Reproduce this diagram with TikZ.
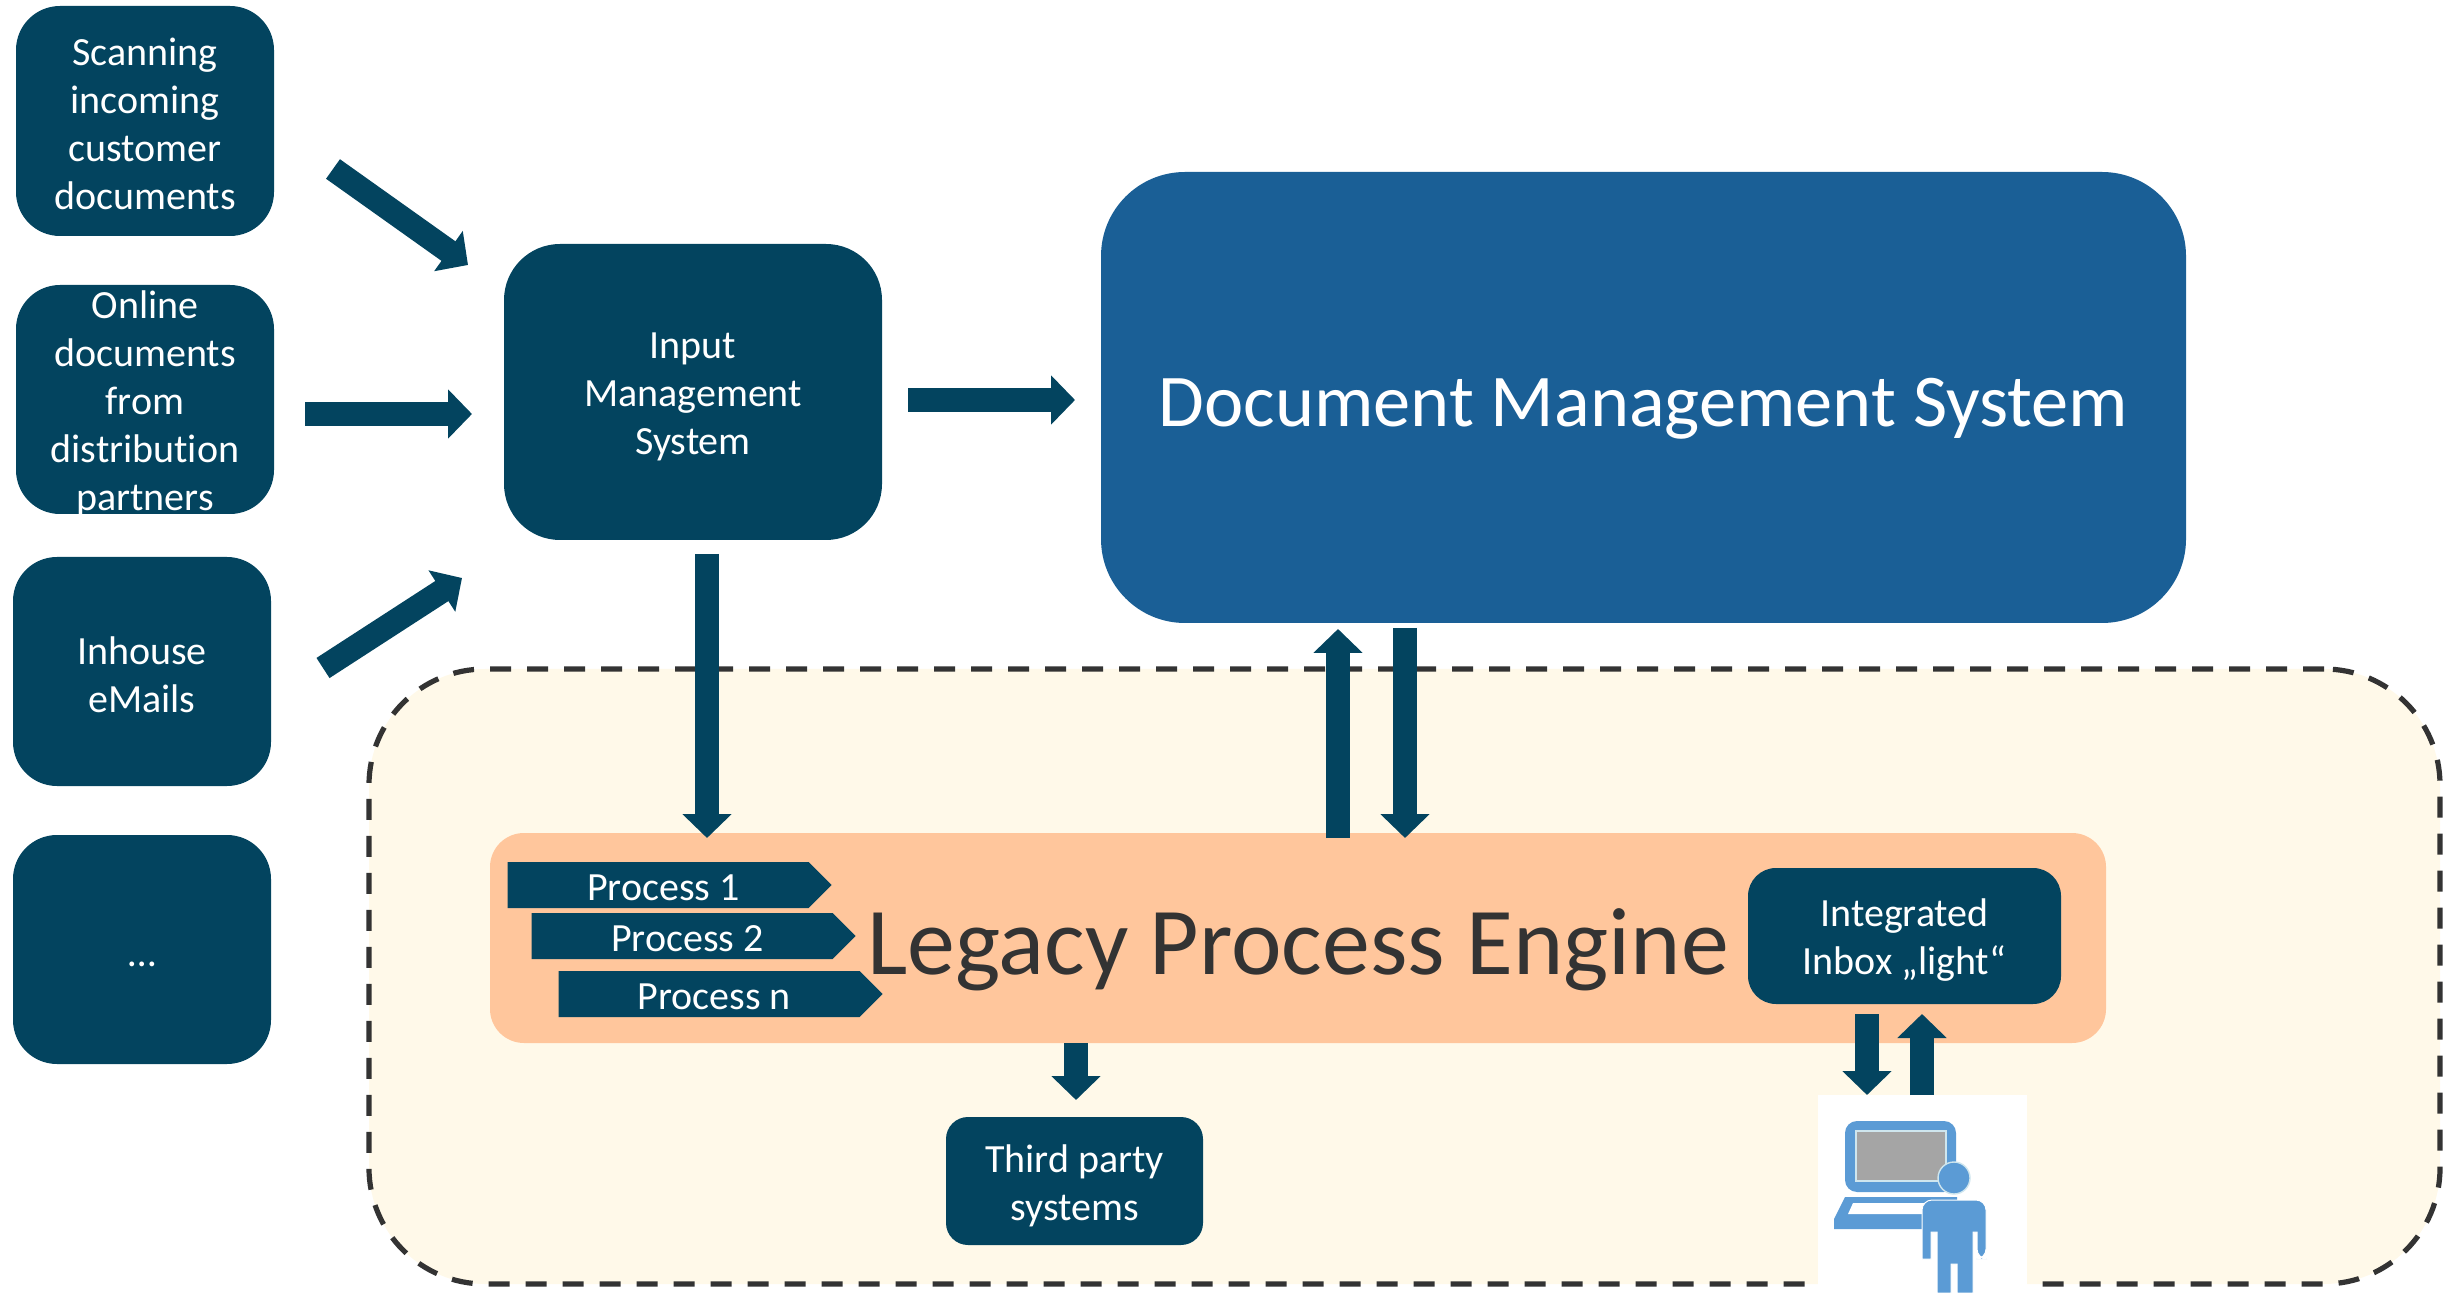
\documentclass[tikz,border=0pt]{standalone}
\usepackage{fontspec}
\setmainfont[Ligatures=NoCommon]{Carlito}
\usetikzlibrary{arrows.meta,shapes.symbols}
\definecolor{teal}{HTML}{03445F}
\definecolor{dmsblue}{HTML}{1A5F96}
\definecolor{engine}{HTML}{FFC69C}
\definecolor{cream}{HTML}{FFF9E9}
\definecolor{ink}{HTML}{333333}
\definecolor{figblue}{HTML}{5B9BD5}
\definecolor{figgray}{HTML}{A5A5A5}
\definecolor{figedge}{HTML}{CFE6EE}
\tikzset{
  x=0.5pt,y=-0.5pt,
  base/.style={inner sep=0pt,outer sep=0pt,align=center,rounded corners=#1},
  dark/.style={base=#1,fill=teal},
  lbl/.style={inner sep=0pt,outer sep=0pt,align=center,text=white,yshift=-2.2pt,font=\fontsize{20pt}{24pt}\selectfont},
  flow/.style={draw=teal,line width=12pt,-{Triangle[length=12pt,width=24pt]}},
  procshape/.style={shape=signal,signal to=east,signal from=nowhere,signal pointer angle=90,
    fill=teal,text=white,inner sep=0pt,outer sep=0pt,font=\fontsize{20pt}{24pt}\selectfont,
    minimum width=162pt,minimum height=23pt,execute at begin node={\hspace{5.4pt}\rule{0pt}{16pt}}},
}
\newcommand\bx[7]{\node[#6,minimum width={(#4-#2)*0.5pt},minimum height={(#5-#3)*0.5pt}] (#1) at ({(#2+#4)/2},{(#3+#5)/2}) {#7};}
\begin{document}
\begin{tikzpicture}
\useasboundingbox (0,0) rectangle (2456,1293);
\bx{zone}{369}{669}{2440}{1284}{base=58pt,fill=cream,draw=ink,line width=2.6pt,dash pattern=on 10.5pt off 8pt}{}
\bx{scan}{16}{6}{274}{236}{dark=22pt}{}
\node[lbl,yshift=0.8pt] (scant) at (scan) {Scanning\\incoming\\customer\\documents};
\bx{online}{16}{285}{274}{514}{dark=22pt}{}
\node[lbl] (onlinet) at (online) {Online\\documents\\from\\distribution\\partners};
\bx{mail}{13}{557}{271}{786}{dark=22pt}{}
\node[lbl,yshift=0.8pt] (mailt) at (mail) {Inhouse\\eMails};
\bx{more}{13}{835}{271}{1064}{dark=22pt}{}
\node[lbl,yshift=2.2pt] (moret) at (more) {\rule{0pt}{17pt}…};
\bx{ims}{504}{244}{882}{540}{dark=28pt}{}
\node[lbl,yshift=-0.4pt] (imst) at (ims) {Input\\Management\\System};
\bx{dms}{1101}{172}{2186}{623}{base=42pt,fill=dmsblue}{}
\node[lbl,yshift=-3.3pt,font=\fontsize{37.2pt}{44pt}\selectfont] (dmst) at (dms) {Document Management System};
\bx{eng}{490}{833}{2106}{1043}{base=17pt,fill=engine}{}
\node[text=ink,inner sep=0pt,font=\fontsize{47.9pt}{56pt}\selectfont] (engt) at (1298,949.5) {Legacy Process Engine};
\node[procshape] (p1) at (658,885) {Process 1};
\node[procshape] (p2) at (682,936) {Process 2};
\node[procshape] (pn) at (709,994) {Process n};
\bx{inbox}{1748}{868}{2061}{1004}{dark=14pt}{}
\node[lbl] (inboxt) at (inbox) {Integrated\\Inbox „light“};
\bx{third}{946}{1117}{1203}{1245}{dark=11pt}{}
\node[lbl] (thirdt) at (third) {Third party\\systems};
% user figure
\bx{user}{1818}{1095}{2027}{1293}{base=0pt,fill=white}{}
\fill[figblue,rounded corners=6pt] (1845,1192) -- (1845,1121) -- (1956,1121) -- (1956,1192) -- cycle;
\fill[figgray,draw=figedge,line width=0.7pt] (1856,1131) rectangle (1946,1181);
\fill[figblue] (1845,1197) -- (1957,1197) -- (1957,1229) -- (1834,1229) -- (1834,1219) -- cycle;
\fill[white] (1853,1203) -- (1930,1203) -- (1930,1214) -- (1848,1214) -- cycle;
\fill[figblue,draw=figedge,line width=0.7pt] (1954,1178) circle (16);
\fill[figblue,draw=white,line width=0.5pt,rounded corners=5pt] (1922,1259) -- (1922,1200) -- (1986,1200) -- (1986,1259) -- (1977,1259) [sharp corners] -- (1977,1232) -- (1973,1232) -- (1973,1293) -- (1957,1293) -- (1957,1264) -- (1951,1264) -- (1951,1293) -- (1937,1293) -- (1937,1232) -- (1931,1232) -- (1931,1259) -- cycle;
% free ends
\coordinate (a1s) at (333,169); \coordinate (a1e) at (468,265);
\coordinate (a2s) at (305,414); \coordinate (a2e) at (472,414);
\coordinate (a3s) at (323,668); \coordinate (a3e) at (462,578);
\coordinate (a4s) at (908,400); \coordinate (a4e) at (1075,400);
\coordinate (a5s) at (707,554); \coordinate (a5e) at (707,838);
\coordinate (a6s) at (1338,838); \coordinate (a6e) at (1338,629);
\coordinate (a7s) at (1405,628); \coordinate (a7e) at (1405,838);
\coordinate (a8s) at (1076,1043); \coordinate (a8e) at (1076,1100);
\coordinate (a9s) at (1867,1014); \coordinate (a9e) at (1867,1095);
\coordinate (a10s) at (1922,1095); \coordinate (a10e) at (1922,1014);
\foreach \s/\e in {a1s/a1e,a2s/a2e,a3s/a3e,a4s/a4e,a5s/a5e,a6s/a6e,a7s/a7e,a8s/a8e,a9s/a9e,a10s/a10e}
  \draw[flow] (\s) -- (\e);
\end{tikzpicture}
\end{document}
